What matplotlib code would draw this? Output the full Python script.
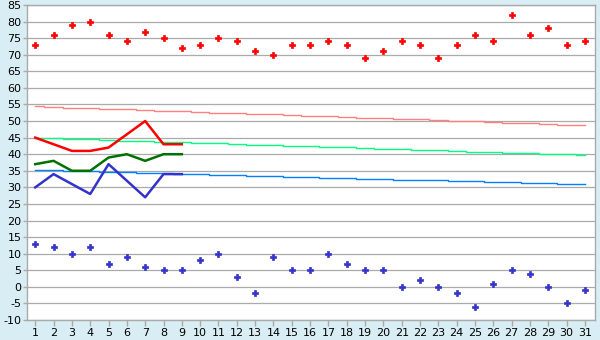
import matplotlib
matplotlib.use("Agg")
import matplotlib.pyplot as plt

days = list(range(1, 32))
high_pts = [73, 76, 79, 80, 76, 74, 77, 75, 72, 73, 75, 74, 71, 70, 73, 73, 74, 73, 69, 71,
            74, 73, 69, 73, 76, 74, 82, 76, 78, 73, 74]
low_pts = [13, 12, 10, 12, 7, 9, 6, 5, 5, 8, 10, 3, -2, 9, 5, 5, 10, 7, 5, 5,
           0, 2, 0, -2, -6, 1, 5, 4, 0, -5, -1]
line_days = list(range(1, 10))
red_line = [45, 43, 41, 41, 42, 46, 50, 43, 43]
green_line = [37, 38, 35, 35, 39, 40, 38, 40, 40]
blue_line = [30, 34, 31, 28, 37, 32, 27, 34, 34]
pink_norm = [54.4, 54.2, 54.0, 53.9, 53.7, 53.5, 53.3, 53.1, 52.9, 52.7, 52.5, 52.3, 52.1, 52.0,
             51.8, 51.6, 51.4, 51.2, 51.0, 50.8, 50.6, 50.5, 50.3, 50.1, 49.9, 49.7, 49.5,
             49.3, 49.1, 48.9, 48.7]
green_norm = [45.0, 44.8, 44.6, 44.5, 44.3, 44.1, 43.9, 43.8, 43.6, 43.4, 43.3, 43.1, 42.9, 42.7,
              42.6, 42.4, 42.2, 42.1, 41.9, 41.7, 41.5, 41.4, 41.2, 41.0, 40.8, 40.7, 40.5,
              40.3, 40.2, 40.0, 39.8]
blue_norm = [35.2, 35.1, 34.9, 34.8, 34.6, 34.5, 34.3, 34.2, 34.1, 33.9, 33.8, 33.6, 33.5, 33.3,
             33.2, 33.1, 32.9, 32.8, 32.6, 32.5, 32.3, 32.2, 32.1, 31.9, 31.8, 31.6, 31.5,
             31.3, 31.2, 31.1, 30.9]
y_ticks = list(range(-10, 90, 5))

bg = '#d8eef4'
grid_c = '#aaaaaa'
fig = plt.figure(figsize=(6, 3.4), dpi=100, facecolor=bg)
ax = fig.add_axes([27/600, 1-320/340, 568/600, 315/340])
ax.set_facecolor('white')

for y in y_ticks:
    ax.axhline(y, color=grid_c, lw=0.9, zorder=0)

ax.plot(days, pink_norm, color='#ff8080', lw=1, drawstyle='steps-mid', zorder=2)
ax.plot(days, green_norm, color='#00ff80', lw=1, drawstyle='steps-mid', zorder=2)
ax.plot(days, blue_norm, color='#0080ff', lw=1, drawstyle='steps-mid', zorder=2)

ax.plot(line_days, red_line, color='#ff0000', lw=1.8, zorder=3)
ax.plot(line_days, green_line, color='#007000', lw=1.8, zorder=3)
ax.plot(line_days, blue_line, color='#3333cc', lw=1.8, zorder=3)

ax.plot(days, high_pts, ls='none', marker='P', ms=4.2, color='#ff0000', mec='#ff0000', mew=0.5, zorder=4)
ax.plot(days, low_pts, ls='none', marker='P', ms=4.2, color='#3333cc', mec='#3333cc', mew=0.5, zorder=4)

ax.set_xlim(0.55, 31.55)
ax.set_ylim(-10, 85)
ax.set_xticks(days)
ax.set_yticks(y_ticks)
ax.set_yticklabels([str(v) for v in y_ticks])
for s in ax.spines.values():
    s.set_color(grid_c)
    s.set_linewidth(1.0)
ax.tick_params(axis='both', colors=grid_c, labelcolor='black', labelsize=8, length=4, width=1, pad=2)
ax.tick_params(axis='y', length=3, pad=1)

fig.savefig('out.png', dpi=100, facecolor=bg)
